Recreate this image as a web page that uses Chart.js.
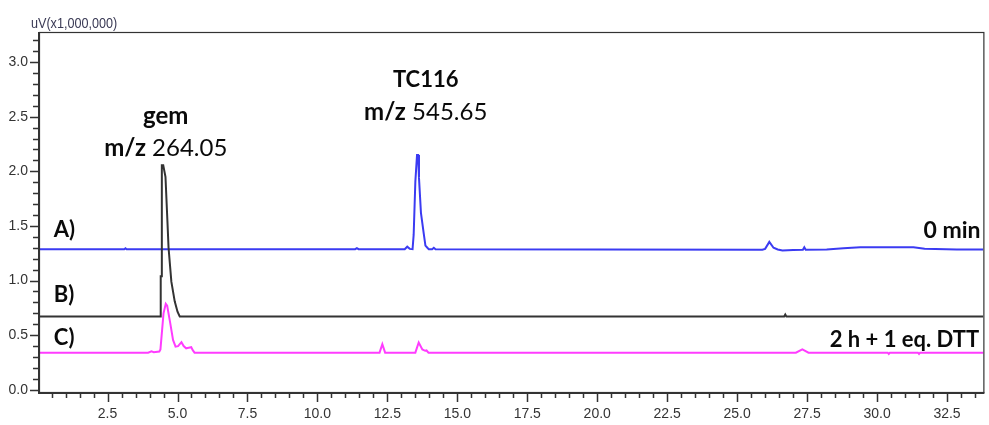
<!DOCTYPE html>
<html>
<head>
<meta charset="utf-8">
<title>Chromatogram</title>
<script src="https://cdn.jsdelivr.net/npm/chart.js@4.4.0/dist/chart.umd.min.js"></script>
<style>
  html, body { margin: 0; padding: 0; background: #fff; }
  #wrap { position: relative; width: 989px; height: 425px; }
</style>
</head>
<body>
<div id="wrap"><canvas id="chromatogram" width="989" height="425"></canvas></div>
<script>
// Retention time (min) and signal (uV x 1,000,000)

// A) 0 min - blue
const timesA = [0, 3.10, 3.14, 3.18, 11.35, 11.41, 11.47, 13.12, 13.21, 13.30, 13.40, 13.44, 13.50,
    13.56, 13.60, 13.63, 13.70, 13.80, 13.86, 13.93, 13.98, 14.10, 14.16, 14.22, 25.90, 26.00,
    26.15, 26.30, 26.45, 26.62, 27.00, 27.35, 27.40, 27.45, 28.20, 28.80, 29.40, 31.30, 31.70,
    32.85, 33.80];
const valuesA = [1.287, 1.287, 1.295, 1.287, 1.287, 1.297, 1.287, 1.287, 1.310, 1.290, 1.287, 1.420, 1.906,
    2.150, 2.150, 1.940, 1.620, 1.430, 1.320, 1.300, 1.287, 1.287, 1.300, 1.287, 1.282, 1.290,
    1.354, 1.300, 1.284, 1.276, 1.280, 1.282, 1.305, 1.282, 1.285, 1.295, 1.305, 1.305, 1.292,
    1.285, 1.285];

// B) black
const timesB = [0, 4.39, 4.40, 4.43, 4.44, 4.49, 4.57, 4.64, 4.68, 4.78, 4.90, 5.00, 5.08,
    26.68, 26.72, 26.76, 33.80];
const valuesB = [0.672, 0.672, 1.040, 1.040, 2.055, 2.055, 1.950, 1.540, 1.300, 0.990, 0.810, 0.715, 0.672,
    0.672, 0.690, 0.672, 0.672];

// C) 2 h + 1 eq. DTT - magenta
const timesC = [0, 3.95, 4.07, 4.15, 4.35, 4.39, 4.50, 4.58, 4.63, 4.74, 4.84, 4.93, 5.02, 5.14,
    5.22, 5.31, 5.40, 5.49, 5.55, 5.61, 12.22, 12.32, 12.42, 13.50, 13.62, 13.75, 13.85, 13.90,
    13.97, 27.10, 27.33, 27.55, 30.38, 30.42, 30.46, 31.46, 31.50, 31.54, 33.80];
const valuesC = [0.340, 0.340, 0.352, 0.345, 0.350, 0.370, 0.700, 0.787, 0.770, 0.610, 0.457, 0.396, 0.400, 0.436,
    0.400, 0.380, 0.385, 0.390, 0.360, 0.340, 0.340, 0.418, 0.340, 0.340, 0.433, 0.370, 0.357, 0.360,
    0.340, 0.340, 0.370, 0.340, 0.340, 0.328, 0.340, 0.340, 0.328, 0.340, 0.340];

// Axis setup
const xRange = [0.05, 33.8];
const yRange = [-0.02, 3.275];
const xMinorStep = 0.5;
const xMajorStep = 2.5;
const yMinorStep = 0.1;
const yMajorStep = 0.5;

const traceColors = ['#333333', '#3b3bf2', '#ff3cff'];
const axisColor = '#333333';
const tickFont = "'Liberation Sans', Arial, sans-serif";
const textFont = "Lato, 'Open Sans', sans-serif";

function toPoints(times, values) {
    return times.map((t, i) => ({ x: t, y: values[i] }));
}

function isMajor(value, step) {
    const r = value / step;
    return Math.abs(r - Math.round(r)) < 1e-6;
}

// Tick marks (long at labelled values) and the closed frame
const frameAndTicks = {
    id: 'frameAndTicks',
    afterDraw(chart) {
        const { ctx, chartArea: a, scales: { x, y } } = chart;
        ctx.save();
        ctx.strokeStyle = axisColor;
        ctx.lineWidth = 1.5;
        ctx.beginPath();
        x.ticks.forEach(t => {
            const px = Math.round(x.getPixelForValue(t.value)) + 0.5;
            const len = isMajor(t.value, xMajorStep) ? 10 : 6;
            ctx.moveTo(px, a.bottom);
            ctx.lineTo(px, a.bottom + len);
        });
        y.ticks.forEach(t => {
            const py = Math.round(y.getPixelForValue(t.value)) + 0.5;
            const len = isMajor(t.value, yMajorStep) ? 9 : 6;
            ctx.moveTo(a.left, py);
            ctx.lineTo(a.left - len, py);
        });
        ctx.stroke();

        ctx.lineWidth = 1.2;
        ctx.strokeRect(a.left + 0.5, a.top + 0.5, a.right - a.left, a.bottom - a.top);
        ctx.lineWidth = 2;
        ctx.beginPath();
        ctx.moveTo(a.left, a.top);
        ctx.lineTo(a.left, a.bottom + 1);
        ctx.lineTo(a.right + 1, a.bottom + 1);
        ctx.stroke();

        // unit label above the y axis
        ctx.fillStyle = '#3a3a55';
        ctx.font = '14px ' + tickFont;
        ctx.textAlign = 'left';
        ctx.textBaseline = 'alphabetic';
        ctx.translate(31, 28);
        ctx.scale(0.9, 1);
        ctx.fillText('uV(x1,000,000)', 0, 0);
        ctx.restore();
    }
};

// Peak and trace annotations, anchored in data coordinates
function drawParts(ctx, parts, px, py, align, size) {
    const widths = parts.map(p => {
        ctx.font = p[1] + ' ' + size + 'px ' + textFont;
        return ctx.measureText(p[0]).width;
    });
    const total = widths.reduce((s, w) => s + w, 0);
    let cx = align === 'center' ? px - total / 2 : align === 'right' ? px - total : px;
    parts.forEach((p, i) => {
        ctx.font = p[1] + ' ' + size + 'px ' + textFont;
        ctx.fillText(p[0], cx, py);
        cx += widths[i];
    });
}

const annotations = {
    id: 'annotations',
    afterDraw(chart) {
        const { ctx, scales: { x, y } } = chart;
        ctx.save();
        ctx.fillStyle = '#0a0a0a';
        ctx.textAlign = 'left';
        ctx.textBaseline = 'middle';
        const put = (parts, t, v, align, size) =>
            drawParts(ctx, parts, x.getPixelForValue(t), y.getPixelForValue(v), align, size);

        put([['gem', 'bold']], 4.58, 2.50, 'center', 24);
        put([['m/z', 'bold'], [' 264.05', 'normal']], 4.58, 2.21, 'center', 24);
        put([['TC116', 'bold']], 13.87, 2.84, 'center', 22);
        put([['m/z', 'bold'], [' 545.65', 'normal']], 13.87, 2.54, 'center', 24);
        put([['A)', 'bold']], 0.58, 1.46, 'left', 22);
        put([['B)', 'bold']], 0.58, 0.87, 'left', 22);
        put([['C)', 'bold']], 0.58, 0.476, 'left', 22);
        put([['0 min', 'bold']], 33.7, 1.455, 'right', 23);
        put([['2 h + 1 eq. DTT', 'bold']], 33.65, 0.457, 'right', 22);
        ctx.restore();
    }
};

const ctx = document.getElementById('chromatogram').getContext('2d');
new Chart(ctx, {
    type: 'line',
    data: {
        datasets: [
            { label: 'B', data: toPoints(timesB, valuesB), borderColor: traceColors[0] },
            { label: 'A) 0 min', data: toPoints(timesA, valuesA), borderColor: traceColors[1] },
            { label: 'C) 2 h + 1 eq. DTT', data: toPoints(timesC, valuesC), borderColor: traceColors[2] }
        ]
    },
    options: {
        responsive: false,
        animation: false,
        elements: {
            line: { borderWidth: 2, tension: 0, fill: false },
            point: { radius: 0, hoverRadius: 0 }
        },
        layout: { padding: { top: 32, right: 2, left: 0, bottom: 0 } },
        plugins: {
            legend: { display: false },
            tooltip: { enabled: false }
        },
        scales: {
            x: {
                type: 'linear',
                min: xRange[0],
                max: xRange[1],
                grid: { display: false, drawTicks: false },
                border: { display: false },
                ticks: {
                    stepSize: xMinorStep,
                    includeBounds: false,
                    autoSkip: false,
                    maxRotation: 0,
                    padding: 14,
                    color: '#333333',
                    font: { family: tickFont, size: 14 },
                    callback: v => (isMajor(v, xMajorStep) && v > 0) ? v.toFixed(1) : ''
                },
                afterFit: s => { s.height = 33; }
            },
            y: {
                type: 'linear',
                min: yRange[0],
                max: yRange[1],
                grid: { display: false, drawTicks: false },
                border: { display: false },
                ticks: {
                    stepSize: yMinorStep,
                    includeBounds: false,
                    autoSkip: false,
                    padding: 11,
                    color: '#333333',
                    font: { family: tickFont, size: 14 },
                    callback: v => isMajor(v, yMajorStep) ? Math.abs(v).toFixed(1) : ''
                },
                afterFit: s => { s.width = 39; }
            }
        }
    },
    plugins: [frameAndTicks, annotations]
});
</script>
</body>
</html>
